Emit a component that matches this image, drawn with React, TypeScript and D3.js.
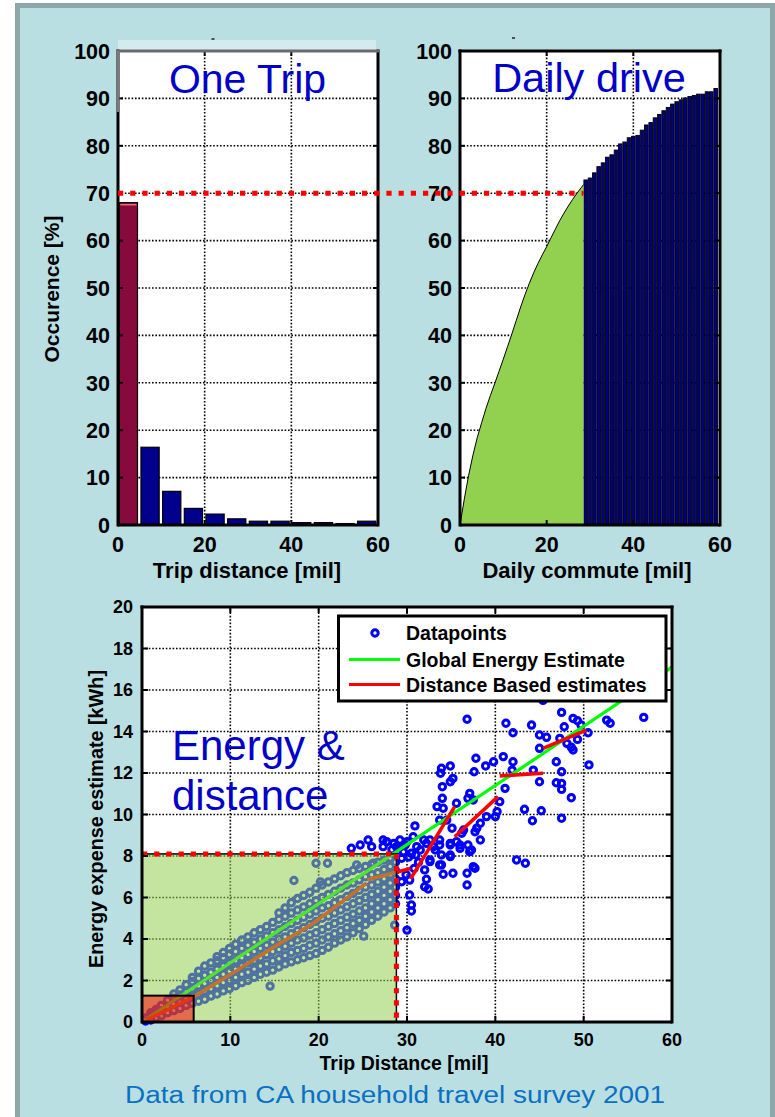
import React from 'react';
import * as d3 from 'd3';

const FONT = "'Liberation Sans', Arial, Helvetica, sans-serif";

// ---------- Top-left: one trip histogram ----------
const tripCenters = [2.4, 7.4, 12.4, 17.4, 22.4, 27.4, 32.4, 37.4, 42.4, 47.4, 52.4, 57.4];
const tripShares = [68, 16.4, 7.1, 3.5, 2.3, 1.3, 0.8, 0.8, 0.5, 0.5, 0.3, 0.8];
const occurrenceTicks = [0, 10, 20, 30, 40, 50, 60, 70, 80, 90, 100];
const mileTicks = [0, 20, 40, 60];
const occurrenceThreshold = 70;

// ---------- Top-right: cumulative daily drive ----------
const commuteMiles = [0, 1, 2, 3, 4, 5, 6, 7, 8, 9, 10, 11, 12, 13, 14, 15, 16, 17, 18, 19, 20, 21, 22, 23, 24, 25, 26, 27, 28, 28.5];
const commuteCum = [0, 5.5, 10.5, 14.8, 18.5, 21.6, 24.6, 27.3, 29.8, 32.4, 35.0, 37.7, 40.4, 43.2, 46.0, 48.6, 51.0, 53.2, 55.2, 57.0, 58.7, 60.6, 62.4, 64.2, 65.8, 67.3, 68.7, 70.0, 71.2, 71.8];
const commuteBarMiles = [29, 30, 31, 32, 33, 34, 35, 36, 37, 38, 39, 40, 41, 42, 43, 44, 45, 46, 47, 48, 49, 50, 51, 52, 53, 54, 55, 56, 57, 58, 59];
const commuteBarCum = [72.8, 73.2, 74.3, 75.6, 76.4, 77.6, 78.1, 79.1, 80.4, 80.8, 81.7, 82.0, 82.2, 83.3, 84.4, 84.9, 85.9, 86.6, 87.4, 88.1, 88.8, 89.3, 89.7, 90.1, 90.4, 90.6, 90.9, 90.9, 91.4, 91.4, 92.1];

// ---------- Bottom: energy vs distance ----------
const distanceTicks = [0, 10, 20, 30, 40, 50, 60];
const energyTicks = [0, 2, 4, 6, 8, 10, 12, 14, 16, 18, 20];
const dailyLimitMiles = 28.8;
const dailyLimitEnergy = 8.1;
const shortTripMiles = 5.85;
const shortTripEnergy = 1.27;

const bandColumns: [number, number[]][] = [
  [0.4, [0.05, 0.2]],
  [1.0, [0.1, 0.3, 0.45]],
  [1.6, [0.2, 0.45, 0.6]],
  [2.2, [0.3, 0.55, 0.8]],
  [2.9, [0.45, 0.75, 1.05]],
  [3.6, [0.55, 0.85, 1.15, 1.35]],
  [4.3, [0.65, 0.95, 1.3, 1.55]],
  [5.0, [0.8, 1.1, 1.45, 1.8]],
  [5.7, [0.9, 1.25, 1.6, 1.95, 2.15]],
  [6.4, [1.0, 1.35, 1.75, 2.1, 2.45]],
  [7.1, [1.1, 1.5, 1.85, 2.25, 2.7]],
  [7.8, [1.25, 1.6, 2.0, 2.4, 2.85]],
  [8.5, [1.35, 1.75, 2.15, 2.55, 2.95, 3.15]],
  [9.2, [1.5, 1.9, 2.3, 2.7, 3.1, 3.35]],
  [9.9, [1.6, 2.0, 2.45, 2.85, 3.25, 3.55]],
  [10.6, [1.75, 2.15, 2.55, 2.95, 3.4, 3.75]],
  [11.3, [1.9, 2.3, 2.7, 3.1, 3.55, 3.95]],
  [12.0, [2.0, 2.4, 2.85, 3.25, 3.7, 4.1]],
  [12.7, [2.15, 2.55, 2.95, 3.4, 3.85, 4.3]],
  [13.4, [2.3, 2.7, 3.1, 3.55, 4.0, 4.45]],
  [14.1, [2.4, 2.8, 3.25, 3.7, 4.15, 4.6]],
  [14.8, [2.5, 2.95, 3.4, 3.85, 4.3, 4.8]],
  [15.5, [2.65, 3.05, 3.5, 4.0, 4.45, 4.95, 5.25]],
  [16.2, [2.8, 3.2, 3.65, 4.1, 4.6, 5.1, 5.5]],
  [16.9, [2.9, 3.35, 3.8, 4.25, 4.75, 5.25, 5.75]],
  [17.6, [3.0, 3.45, 3.95, 4.4, 4.9, 5.4, 5.95]],
  [18.3, [3.1, 3.55, 4.05, 4.55, 5.05, 5.55, 6.1]],
  [19.0, [3.2, 3.7, 4.2, 4.7, 5.2, 5.7, 6.25]],
  [19.7, [3.3, 3.8, 4.3, 4.85, 5.35, 5.85, 6.45]],
  [20.4, [3.45, 3.95, 4.45, 5.0, 5.5, 6.0, 6.6]],
  [21.1, [3.6, 4.1, 4.6, 5.1, 5.6, 6.15, 6.75]],
  [21.8, [3.8, 4.25, 4.75, 5.25, 5.75, 6.3, 6.9]],
  [22.5, [3.95, 4.4, 4.9, 5.4, 5.9, 6.45, 7.05]],
  [23.2, [4.1, 4.55, 5.05, 5.55, 6.05, 6.6, 7.2]],
  [23.9, [4.3, 4.75, 5.2, 5.7, 6.2, 6.7, 7.3]],
  [24.6, [4.5, 4.9, 5.35, 5.85, 6.35, 6.85, 7.4]],
  [25.3, [4.7, 5.1, 5.5, 6.0, 6.5, 7.0, 7.5]],
  [26.0, [4.9, 5.3, 5.7, 6.15, 6.6, 7.1, 7.6]],
  [26.7, [5.1, 5.5, 5.9, 6.3, 6.75, 7.2, 7.7]],
  [27.4, [5.3, 5.7, 6.1, 6.5, 6.9, 7.35, 7.8]],
  [28.1, [5.5, 5.9, 6.3, 6.7, 7.1, 7.5, 7.9]],
  [28.7, [5.7, 6.1, 6.5, 6.9, 7.3, 7.7, 8.0]],
];

const outerPoints: [number, number][] = [
  [17.2, 6.82], [19.7, 7.65], [21.0, 7.65], [25.1, 4.14], [14.5, 1.73], [28.6, 4.67], [24.3, 7.57], [26.2, 7.65], [20.2, 6.75],
  [36.8, 14.59], [41.2, 14.4], [42.0, 13.94], [44.1, 14.31], [47.5, 14.92], [47.8, 14.23], [48.8, 14.63], [49.3, 14.52],
  [49.7, 14.31], [50.5, 13.94], [52.6, 14.55], [53.0, 14.4], [56.8, 14.68], [45.0, 13.83], [45.8, 13.72], [45.0, 13.19],
  [47.3, 13.67], [48.1, 13.43], [48.6, 13.24], [49.3, 13.62], [48.8, 13.11], [45.4, 15.5], [46.9, 12.54], [47.5, 12.06],
  [50.6, 12.39], [44.3, 12.14], [45.0, 11.58], [46.9, 11.53], [47.5, 11.5], [47.5, 11.21], [48.6, 10.81], [47.5, 9.82],
  [43.3, 10.25], [44.2, 9.7], [45.2, 10.18], [40.9, 12.79], [42.0, 12.54], [41.9, 12.14], [39.8, 12.54], [38.9, 12.34],
  [37.8, 12.71], [37.6, 12.06], [41.1, 11.26], [40.5, 10.62], [40.2, 10.14], [40.0, 9.9], [39.0, 9.9], [38.3, 9.58],
  [37.9, 9.34], [37.7, 9.17], [38.3, 8.77], [33.9, 12.23], [33.8, 11.99], [34.9, 12.34], [35.2, 11.74], [34.9, 11.58],
  [34.0, 11.34], [37.1, 11.02], [37.5, 10.7], [36.9, 10.78], [35.6, 10.54], [34.0, 10.78], [33.4, 10.38], [34.1, 10.3],
  [34.5, 9.73], [30.9, 9.45], [31.9, 8.77], [32.6, 8.77], [33.7, 8.77], [34.9, 8.61], [36.0, 8.37], [36.9, 8.53],
  [37.3, 8.29], [36.4, 9.25], [42.4, 7.81], [43.4, 7.65], [33.9, 7.57], [34.9, 7.97], [37.5, 7.49], [32.6, 7.81],
  [27.7, 8.69], [28.8, 8.45], [30.0, 8.69], [30.7, 8.93], [23.7, 8.37], [24.7, 8.53], [25.6, 8.77], [26.0, 8.45],
  [27.3, 8.77], [27.3, 8.45], [28.5, 8.61], [29.2, 8.77], [29.8, 8.53], [31.1, 8.45], [32.2, 8.61], [29.2, 8.45],
  [30.5, 8.13], [29.4, 7.89], [32.6, 7.73], [33.7, 8.53], [34.9, 8.53], [36.0, 8.53], [33.9, 8.05], [34.9, 8.05],
  [33.7, 7.57], [34.1, 7.12], [35.2, 7.17], [36.8, 7.17], [37.7, 7.41], [36.8, 6.6], [32.0, 7.33], [32.2, 6.88],
  [32.0, 6.52], [32.4, 6.41], [30.3, 6.84], [29.4, 6.76], [30.3, 6.12], [30.5, 5.64], [30.5, 5.35], [30.0, 4.43],
  [33.2, 8.29], [31.5, 8.29], [35.6, 8.69], [37.1, 8.21], [35.1, 9.34], [36.2, 9.1], [33.7, 9.73], [33.0, 8.45],
  [28.3, 8.3], [29.6, 8.2], [30.2, 7.95], [31.0, 8.05], [31.3, 7.7], [30.8, 7.4], [29.9, 7.1],
];

const globalEstimate: [number, number][] = [[0, 0], [60, 17.1]];
const distanceEstimates: [number, number][][] = [
  [[0.5, 0.1], [5.8, 1.2], [10.5, 2.42], [15.6, 3.79], [19.4, 4.76], [25.4, 6.68]],
  [[25.5, 6.85], [30.4, 7.4]],
  [[30.4, 6.9], [35.4, 10.38]],
  [[35.4, 8.93], [40.3, 10.86]],
  [[40.5, 11.86], [45.4, 11.99]],
  [[45.4, 13.19], [50.3, 14.07]],
];

const legendLabels = ['Datapoints', 'Global Energy Estimate', 'Distance Based estimates'];

const BLUE_TEXT = '#0000c8';
const RED = '#ff0000';
const dotted = { stroke: '#000', strokeWidth: 1.6, strokeDasharray: '1.6 1.8' };
const redDots = { stroke: RED, strokeWidth: 5, strokeDasharray: '5.2 7', fill: 'none' };
const MARK_R = 3.2;
const MARK_W = 3.0;

function Grid({ x, y, xt, yt }: any) {
  const [x0, x1] = x.range();
  const [y0, y1] = y.range();
  return (
    <g>
      {xt.filter((t: number) => t !== x.domain()[0] && t !== x.domain()[1]).map((t: number) => (
        <line key={'gx' + t} x1={x(t)} x2={x(t)} y1={y0} y2={y1} {...dotted} />
      ))}
      {yt.filter((t: number) => t !== y.domain()[0] && t !== y.domain()[1]).map((t: number) => (
        <line key={'gy' + t} x1={x0} x2={x1} y1={y(t)} y2={y(t)} {...dotted} />
      ))}
    </g>
  );
}

function Frame({ x, y, xt, yt, tickLen = 5, grayTop = false }: any) {
  const [x0, x1] = x.range();
  const [y0, y1] = y.range();
  return (
    <g>
      {xt.map((t: number) => (
        <g key={'tx' + t}>
          <line x1={x(t)} x2={x(t)} y1={y0} y2={y0 - tickLen} stroke="#000" strokeWidth={2} />
          <line x1={x(t)} x2={x(t)} y1={y1} y2={y1 + tickLen} stroke="#000" strokeWidth={2} />
        </g>
      ))}
      {yt.map((t: number) => (
        <g key={'ty' + t}>
          <line x1={x0} x2={x0 + tickLen} y1={y(t)} y2={y(t)} stroke="#000" strokeWidth={2} />
          <line x1={x1} x2={x1 - tickLen} y1={y(t)} y2={y(t)} stroke="#000" strokeWidth={2} />
        </g>
      ))}
      <line x1={x0} x2={x1} y1={y0} y2={y0} stroke="#000" strokeWidth={3} />
      <line x1={x1} x2={x1} y1={y0 + 1.5} y2={y1 - 1.5} stroke="#000" strokeWidth={3} />
      <line x1={x0} x2={x0} y1={y0 + 1.5} y2={y1 - 1.5} stroke="#000" strokeWidth={3} />
      <line x1={x0 - 1.5} x2={x1 + 1.5} y1={y1} y2={y1} stroke={grayTop ? '#6b6b6b' : '#000'} strokeWidth={3} />
      {grayTop && <line x1={x0} x2={x0} y1={y1} y2={y1 + 61} stroke="#7a7a7a" strokeWidth={3} />}
    </g>
  );
}

function TickLabels({ x, y, xt, yt, size, yRight, xBase }: any) {
  return (
    <g fontFamily={FONT} fontWeight="bold" fontSize={size} fill="#000">
      {yt.map((t: number) => (
        <text key={'ly' + t} x={yRight} y={y(t)} dy="0.36em" textAnchor="end">{t}</text>
      ))}
      {xt.map((t: number) => (
        <text key={'lx' + t} x={x(t)} y={xBase} textAnchor="middle">{t}</text>
      ))}
    </g>
  );
}

export default function App() {
  // scales
  const tlX = d3.scaleLinear().domain([0, 60]).range([118, 378]);
  const trX = d3.scaleLinear().domain([0, 60]).range([460, 720]);
  const topY = d3.scaleLinear().domain([0, 100]).range([525, 51]);
  const bX = d3.scaleLinear().domain([0, 60]).range([142, 672]);
  const bY = d3.scaleLinear().domain([0, 20]).range([1022, 607]);

  const barW = tlX(4.2) - tlX(0);

  const commuteData = commuteMiles.map((m, i) => [m, commuteCum[i]] as [number, number]);
  const area = d3.area<[number, number]>().x(d => trX(d[0])).y0(topY(0)).y1(d => topY(d[1]));
  const curve = d3.line<[number, number]>().x(d => trX(d[0])).y(d => topY(d[1]));

  const scatter: [number, number][] = bandColumns
    .flatMap(([xv, ys]) => ys.map(yv => [xv, yv] as [number, number]))
    .concat(outerPoints);
  const bLine = d3.line<[number, number]>().x(d => bX(d[0])).y(d => bY(d[1]));

  const [bx0, bx1] = bX.range();
  const [by0, by1] = bY.range();

  return (
    <svg width={775} height={1117} style={{ position: 'absolute', left: 0, top: 0, background: '#fff' }}>
      <defs>
        <clipPath id="bclip">
          <rect x={bx0} y={by1} width={bx1 - bx0} height={by0 - by1} />
        </clipPath>
      </defs>
      {/* panel */}
      <rect x={17.5} y={5.5} width={755} height={1125} fill="#badfe2" stroke="#8fa7a9" strokeWidth={5} />

      {/* ===== Top-left ===== */}
      <rect x={tlX(0)} y={40} width={tlX(60) - tlX(0) - 2} height={11} fill="#d3ebee" />
      <line x1={211.5} x2={214.5} y1={39} y2={39} stroke="#222" strokeWidth={1.5} />
      <rect x={tlX(0)} y={topY(100)} width={tlX(60) - tlX(0)} height={topY(0) - topY(100)} fill="#fff" />
      <Grid x={tlX} y={topY} xt={mileTicks} yt={occurrenceTicks} />
      {tripCenters.map((c, i) => (
        <rect key={'tb' + i}
          x={tlX(c) - barW / 2} y={topY(tripShares[i])}
          width={barW} height={topY(0) - topY(tripShares[i])}
          fill={i === 0 ? '#860a3d' : '#00008c'} stroke="#000" strokeWidth={1.2} />
      ))}
      <line x1={tlX(tripCenters[0]) - barW / 2 + 1} x2={tlX(tripCenters[0]) + barW / 2 - 1}
        y1={topY(tripShares[0]) + 2} y2={topY(tripShares[0]) + 2} stroke="#f07070" strokeWidth={1.5} />
      <Frame x={tlX} y={topY} xt={mileTicks} yt={occurrenceTicks} grayTop={true} />
      <TickLabels x={tlX} y={topY} xt={mileTicks} yt={occurrenceTicks} size={21.5} yRight={110} xBase={552} />
      <text x={(tlX(0) + tlX(60)) / 2 - 0.5} y={93} textAnchor="middle" fontFamily={FONT} fontSize={41} fill={BLUE_TEXT}>One Trip</text>
      <text x={247} y={578} textAnchor="middle" fontFamily={FONT} fontWeight="bold" fontSize={22}>Trip distance [mil]</text>
      <text transform="translate(59,289) rotate(-90)" textAnchor="middle" fontFamily={FONT} fontWeight="bold" fontSize={21}>Occurence [%]</text>

      {/* ===== Top-right ===== */}
      <line x1={512} x2={515} y1={38} y2={38} stroke="#222" strokeWidth={1.5} />
      <rect x={trX(0)} y={topY(100)} width={trX(60) - trX(0)} height={topY(0) - topY(100)} fill="#fff" />
      <Grid x={trX} y={topY} xt={mileTicks} yt={occurrenceTicks} />
      {commuteBarMiles.map((m, i) => (
        <rect key={'cb' + m}
          x={trX(m - 0.5) + 0.4} y={topY(commuteBarCum[i])}
          width={trX(m + 0.5) - trX(m - 0.5) - 0.8} height={topY(0) - topY(commuteBarCum[i])}
          fill="#000080" stroke="#000" strokeWidth={0.9} />
      ))}
      <path d={area(commuteData) || ''} fill="#92d050" />
      <path d={curve(commuteData) || ''} fill="none" stroke="#000" strokeWidth={1} />
      <Frame x={trX} y={topY} xt={mileTicks} yt={occurrenceTicks} />
      <TickLabels x={trX} y={topY} xt={mileTicks} yt={occurrenceTicks} size={21.5} yRight={452} xBase={552} />
      <text x={589} y={92} textAnchor="middle" fontFamily={FONT} fontSize={41.5} fill={BLUE_TEXT}>Daily drive</text>
      <text x={587} y={578} textAnchor="middle" fontFamily={FONT} fontWeight="bold" fontSize={22}>Daily commute [mil]</text>

      {/* threshold line across both */}
      <line x1={tlX(0)} x2={trX(commuteMiles[commuteMiles.length - 1])} y1={topY(occurrenceThreshold)} y2={topY(occurrenceThreshold)} {...redDots} />

      {/* ===== Bottom ===== */}
      <rect x={bx0} y={by1} width={bx1 - bx0} height={by0 - by1} fill="#fff" />
      <Grid x={bX} y={bY} xt={distanceTicks} yt={energyTicks} />
      <g>
        {scatter.map((p, i) => (
          <circle key={'sp' + i} cx={bX(p[0])} cy={bY(p[1])} r={MARK_R} fill="none" stroke="#0000ff" strokeWidth={MARK_W} />
        ))}
      </g>
      <g clipPath="url(#bclip)">
        <path d={bLine(globalEstimate) || ''} fill="none" stroke="#00ff00" strokeWidth={3.2} />
        {distanceEstimates.map((seg, i) => (
          <path key={'de' + i} d={bLine(seg) || ''} fill="none" stroke={RED} strokeWidth={3.6} />
        ))}
      </g>
      {/* highlighted regions */}
      <rect x={bX(0)} y={bY(dailyLimitEnergy)} width={bX(dailyLimitMiles) - bX(0)} height={bY(0) - bY(dailyLimitEnergy)}
        fill="#92d050" fillOpacity={0.55} stroke="#000" strokeWidth={1.5} />
      <rect x={bX(0)} y={bY(shortTripEnergy)} width={bX(shortTripMiles) - bX(0)} height={bY(0) - bY(shortTripEnergy)}
        fill="#ff0000" fillOpacity={0.53} stroke="#000" strokeWidth={2} />
      <line x1={bX(0)} x2={bX(dailyLimitMiles)} y1={bY(dailyLimitEnergy)} y2={bY(dailyLimitEnergy)} {...redDots} />
      <line x1={bX(dailyLimitMiles)} x2={bX(dailyLimitMiles)} y1={bY(dailyLimitEnergy)} y2={bY(0)} {...redDots} />
      <Frame x={bX} y={bY} xt={distanceTicks} yt={energyTicks} tickLen={6} />
      <TickLabels x={bX} y={bY} xt={distanceTicks} yt={energyTicks} size={18} yRight={133} xBase={1046} />
      <text x={404} y={1070} textAnchor="middle" fontFamily={FONT} fontWeight="bold" fontSize={19.5}>Trip Distance [mil]</text>
      <text transform="translate(103,819) rotate(-90)" textAnchor="middle" fontFamily={FONT} fontWeight="bold" fontSize={19.8}>Energy expense estimate [kWh]</text>
      <text x={172} y={760} fontFamily={FONT} fontSize={42} fill={BLUE_TEXT}>Energy &amp;</text>
      <text x={172} y={810} fontFamily={FONT} fontSize={42} fill={BLUE_TEXT}>distance</text>

      {/* legend */}
      <rect x={338.5} y={616} width={327.5} height={85} fill="#fff" stroke="#000" strokeWidth={3} />
      <circle cx={375} cy={633} r={MARK_R} fill="none" stroke="#0000ff" strokeWidth={MARK_W} />
      <line x1={349} x2={400} y1={659.5} y2={659.5} stroke="#00ff00" strokeWidth={3.2} />
      <line x1={349} x2={400} y1={684.5} y2={684.5} stroke={RED} strokeWidth={3.2} />
      <g fontFamily={FONT} fontWeight="bold" fontSize={19.5}>
        <text x={406} y={640}>{legendLabels[0]}</text>
        <text x={406} y={666.5}>{legendLabels[1]}</text>
        <text x={406} y={692}>{legendLabels[2]}</text>
      </g>

      {/* caption */}
      <text x={395} y={1103} textAnchor="middle" fontFamily={FONT} fontSize={23} fill="#0a70c2"
        textLength={540} lengthAdjust="spacingAndGlyphs">Data from CA household travel survey 2001</text>
    </svg>
  );
}
